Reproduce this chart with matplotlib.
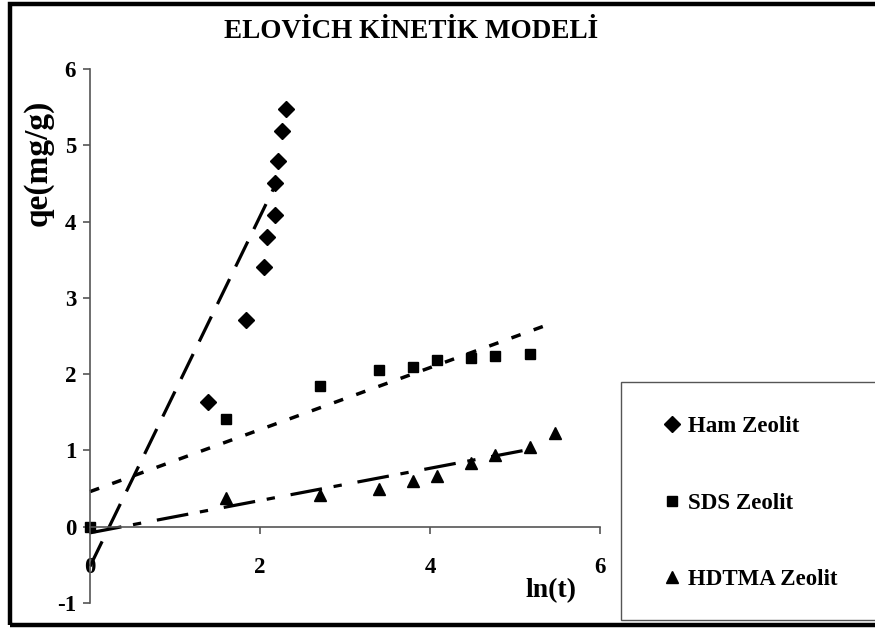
import matplotlib
matplotlib.use("Agg")
import matplotlib.pyplot as plt
from matplotlib.patches import Rectangle

plt.rcParams['font.family'] = ['Liberation Serif', 'DejaVu Serif']
plt.rcParams['font.weight'] = 'bold'
plt.rcParams['lines.scale_dashes'] = False
plt.rcParams['axes.unicode_minus'] = False

# ln(t) versus qe (mg/g) for each adsorbent
ham_x = [1.39, 1.83, 2.05, 2.08, 2.18, 2.18, 2.21, 2.26, 2.30]
ham_y = [1.64, 2.71, 3.41, 3.80, 4.09, 4.51, 4.80, 5.19, 5.48]

sds_x = [0.0, 1.60, 2.70, 3.40, 3.80, 4.08, 4.48, 4.77, 5.18]
sds_y = [0.0, 1.41, 1.85, 2.06, 2.09, 2.18, 2.21, 2.24, 2.26]

hdtma_x = [1.60, 2.70, 3.40, 3.80, 4.08, 4.48, 4.77, 5.18, 5.47]
hdtma_y = [0.37, 0.42, 0.50, 0.60, 0.66, 0.83, 0.94, 1.05, 1.23]

# Linear trend lines (start / end)
ham_fit_x = [0.0, 2.18]
ham_fit_y = [-0.52, 4.48]
sds_fit_x = [0.0, 5.39]
sds_fit_y = [0.46, 2.65]
hdtma_fit_x = [0.0, 5.20]
hdtma_fit_y = [-0.08, 1.02]

labels = ["Ham Zeolit", "SDS Zeolit", "HDTMA Zeolit"]
x_ticks = [0, 2, 4, 6]
y_ticks = [-1, 0, 1, 2, 3, 4, 5, 6]

fig = plt.figure(figsize=(8.75, 6.28), dpi=100)
fig.patch.set_facecolor("white")
ax = fig.add_axes([90 / 875, 25 / 628, 510 / 875, 534 / 628])

m_ham, = ax.plot(ham_x, ham_y, ls="none", marker="D", ms=8.5, color="black", clip_on=False)
m_sds, = ax.plot(sds_x, sds_y, ls="none", marker="s", ms=7.5, color="black", clip_on=False)
m_hd, = ax.plot(hdtma_x, hdtma_y, ls="none", marker="^", ms=9, color="black", clip_on=False)

ax.plot(ham_fit_x, ham_fit_y, color="black", lw=2.3, dashes=(20, 10),
        dash_capstyle="butt", clip_on=False)
ax.plot(sds_fit_x, sds_fit_y, color="black", lw=2.5, dashes=(7, 10),
        dash_capstyle="butt", clip_on=False)
ax.plot(hdtma_fit_x, hdtma_fit_y, color="black", lw=2.3, dashes=(23, 8.5, 6, 11.5),
        dash_capstyle="butt", clip_on=False)

ax.set_xlim(0, 6)
ax.set_ylim(-1, 6)
ax.set_xticks(x_ticks)
ax.set_yticks(y_ticks)
ax.set_facecolor("none")

for side in ("top", "right"):
    ax.spines[side].set_visible(False)
ax.spines["bottom"].set_position(("data", 0))
for side in ("left", "bottom"):
    ax.spines[side].set_color("#555555")
    ax.spines[side].set_linewidth(1.2)

ax.tick_params(axis="x", direction="out", length=5, width=1.2, color="#555555",
               labelsize=16.5, pad=17)
ax.tick_params(axis="y", direction="out", length=5, width=1.2, color="#555555",
               labelsize=16.5, pad=5)
for lab in ax.get_xticklabels() + ax.get_yticklabels():
    lab.set_fontweight("bold")

fig.text(38 / 875, 1 - 163 / 628, "qe(mg/g)", rotation=90, ha="center", va="center",
         fontsize=24, fontweight="bold")
fig.text(551 / 875, 1 - 591 / 628, "ln(t)", ha="center", va="center",
         fontsize=20, fontweight="bold")
fig.text(411 / 875, 1 - 31 / 628, "ELOVİCH KİNETİK MODELİ", ha="center", va="center",
         fontsize=19.5, fontweight="bold")

# Legend box
fig.add_artist(Rectangle((621 / 875, 8 / 628), 0.4, 238 / 628, transform=fig.transFigure,
                         facecolor="white", edgecolor="#555555", lw=1.0, clip_on=False))
leg = fig.legend([m_ham, m_sds, m_hd], labels, loc="upper left",
                 bbox_to_anchor=(654 / 875, 1 - 405 / 628), frameon=False,
                 prop={"size": 16.5, "weight": "bold"}, handlelength=0.6,
                 handletextpad=0.4, labelspacing=2.4, borderpad=0, markerscale=1.0)

# Outer frame
fig.add_artist(Rectangle((10 / 875, 3 / 628), 1.2, 621 / 628, transform=fig.transFigure,
                         facecolor="none", edgecolor="black", lw=3.2, clip_on=False))

fig.savefig("out.png", dpi=100)
